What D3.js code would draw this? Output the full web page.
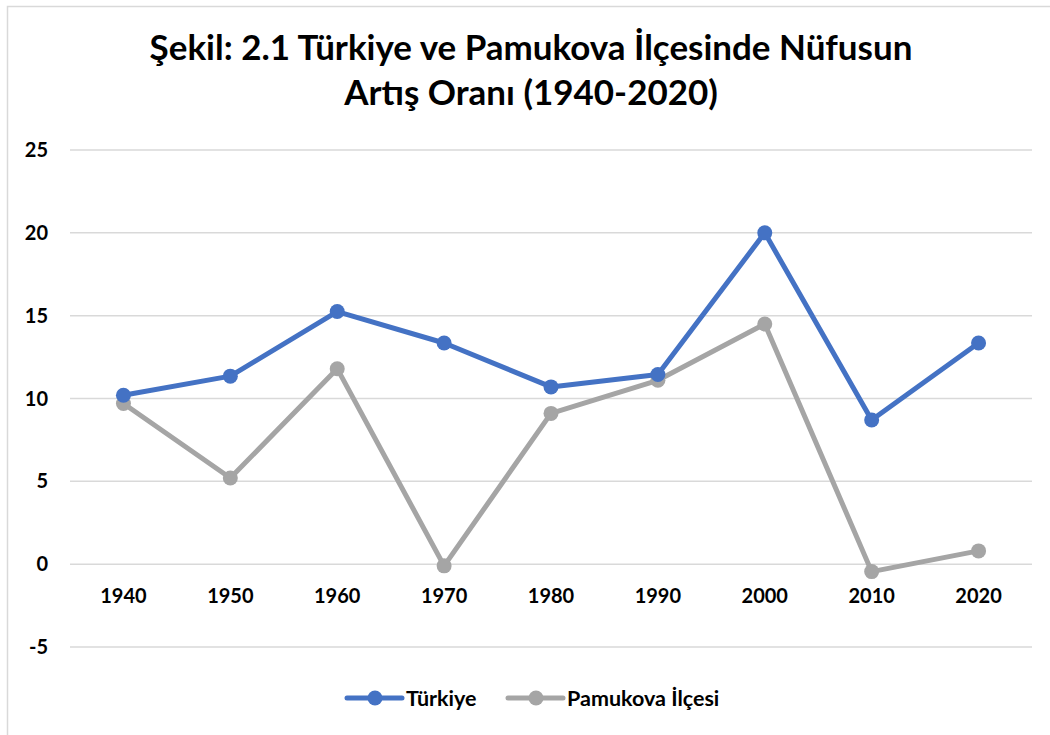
<!DOCTYPE html>
<html>
<head>
<meta charset="utf-8">
<script src="https://cdn.jsdelivr.net/npm/d3@7"></script>
<style>
  body { margin: 0; background: #fff; }
  svg { display: block; font-family: Lato, "Open Sans", sans-serif; }
</style>
</head>
<body>
<div id="chart"></div>
<script>
// data
const years = ['1940', '1950', '1960', '1970', '1980', '1990', '2000', '2010', '2020'];
const turkiye = [10.2, 11.35, 15.25, 13.35, 10.7, 11.45, 20.0, 8.7, 13.35];
const pamukova = [9.7, 5.2, 11.8, -0.1, 9.1, 11.1, 14.5, -0.45, 0.8];
const yTicks = [-5, 0, 5, 10, 15, 20, 25];
const seriesNames = ['Türkiye', 'Pamukova İlçesi'];
const titleLines = ['Şekil: 2.1 Türkiye ve Pamukova İlçesinde Nüfusun', 'Artış Oranı (1940-2020)'];

const width = 1050, height = 735;
const colors = ['#4472C4', '#A5A5A5'];

const svg = d3.select('#chart').append('svg')
    .attr('width', width)
    .attr('height', height);

// chart frame (right / bottom edges fall outside the picture)
svg.append('rect')
    .attr('x', 7.5).attr('y', 6.5)
    .attr('width', width + 10).attr('height', height + 10)
    .attr('fill', 'none')
    .attr('stroke', '#d9d9d9')
    .attr('stroke-width', 1.5);

const x = d3.scaleBand().domain(years).range([70, 1032]);
const y = d3.scaleLinear().domain([-5, 25]).range([647, 150]);
const cx = d => x(d) + x.bandwidth() / 2;

// title, sized to fit the reference width
const title = svg.append('g');
titleLines.forEach((t, i) => {
  title.append('text')
      .attr('x', 531)
      .attr('y', 60 + i * 45)
      .attr('text-anchor', 'middle')
      .attr('font-size', 30)
      .attr('font-weight', 700)
      .attr('fill', '#000')
      .text(t);
});
const first = title.select('text').node();
const scale = 763 / first.getComputedTextLength();
title.selectAll('text').attr('font-size', 30 * scale);

// gridlines
svg.append('g')
  .selectAll('line')
  .data(yTicks)
  .join('line')
    .attr('x1', 70).attr('x2', 1032)
    .attr('y1', d => y(d)).attr('y2', d => y(d))
    .attr('stroke', '#d9d9d9')
    .attr('stroke-width', 1.5);

// y labels
svg.append('g')
  .selectAll('text')
  .data(yTicks)
  .join('text')
    .attr('x', 48)
    .attr('y', d => y(d))
    .attr('dy', '0.35em')
    .attr('text-anchor', 'end')
    .attr('font-size', 20)
    .attr('font-weight', 700)
    .text(d => d);

// x labels sit just under the zero line
svg.append('g')
  .selectAll('text')
  .data(years)
  .join('text')
    .attr('x', d => cx(d))
    .attr('y', 596)
    .attr('dy', '0.35em')
    .attr('text-anchor', 'middle')
    .attr('font-size', 20)
    .attr('font-weight', 700)
    .text(d => d);

const line = d3.line()
    .x(d => cx(d.year))
    .y(d => y(d.value));

// draw grey series first so blue sits on top
const series = [turkiye, pamukova].map((vals, i) => ({
  name: seriesNames[i],
  color: colors[i],
  values: years.map((yr, j) => ({ year: yr, value: vals[j] }))
}));

series.slice().reverse().forEach(s => {
  const g = svg.append('g');
  g.append('path')
      .attr('d', line(s.values))
      .attr('fill', 'none')
      .attr('stroke', s.color)
      .attr('stroke-width', 5)
      .attr('stroke-linejoin', 'round')
      .attr('stroke-linecap', 'round');
  g.selectAll('circle')
    .data(s.values)
    .join('circle')
      .attr('cx', d => cx(d.year))
      .attr('cy', d => y(d.value))
      .attr('r', 7.5)
      .attr('fill', s.color);
});

// legend
const legendX = [347, 508];
const legend = svg.append('g');
series.forEach((s, i) => {
  const lg = legend.append('g').attr('transform', `translate(${legendX[i]}, 698)`);
  lg.append('line')
      .attr('x1', 0).attr('x2', 55)
      .attr('stroke', s.color)
      .attr('stroke-width', 5)
      .attr('stroke-linecap', 'round');
  lg.append('circle')
      .attr('cx', 28).attr('r', 7.5)
      .attr('fill', s.color);
  lg.append('text')
      .attr('x', 59)
      .attr('dy', '0.35em')
      .attr('font-size', 21.5)
      .attr('font-weight', 700)
      .text(s.name);
});
</script>
</body>
</html>
